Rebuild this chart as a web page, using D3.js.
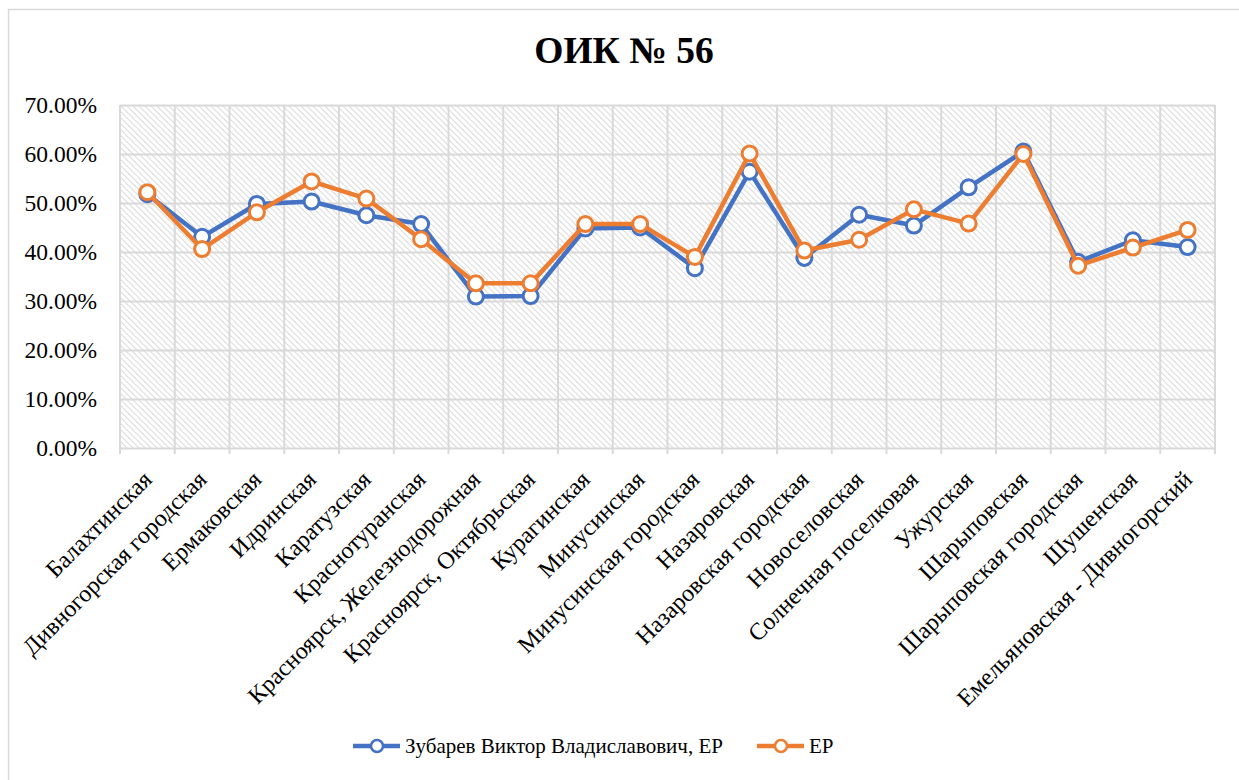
<!DOCTYPE html>
<html>
<head>
<meta charset="utf-8">
<script src="https://cdn.jsdelivr.net/npm/d3@7"></script>
<style>
  body { margin: 0; background: #fff; }
</style>
</head>
<body>
<div id="chart"></div>
<script>
var districts = ["Балахтинская", "Дивногорская городская", "Ермаковская", "Идринская", "Каратузская",
  "Краснотуранская", "Красноярск, Железнодорожная", "Красноярск, Октябрьская", "Курагинская", "Минусинская",
  "Минусинская городская", "Назаровская", "Назаровская городская", "Новоселовская", "Солнечная поселковая",
  "Ужурская", "Шарыповская", "Шарыповская городская", "Шушенская", "Емельяновская - Дивногорский"];

var zubarev = [51.8, 43.1, 49.8, 50.3, 47.5, 45.7, 30.9, 31.0, 44.8, 45.0,
  36.7, 56.4, 38.8, 47.6, 45.4, 53.2, 60.5, 38.0, 42.4, 41.0];
var er = [52.2, 40.6, 48.1, 54.4, 50.9, 42.6, 33.6, 33.6, 45.7, 45.7,
  39.0, 60.1, 40.3, 42.5, 48.7, 45.8, 60.0, 37.2, 40.9, 44.5];

var yTicks = [0, 10, 20, 30, 40, 50, 60, 70];
var seriesNames = ["Зубарев Виктор Владиславович, ЕР", "ЕР"];
var colors = ["#4472C4", "#ED7D31"];

var FONT = '"Liberation Serif", "Times New Roman", serif';

var width = 1239, height = 780;
var margin = {top: 105, right: 24, bottom: 332, left: 120};
var chartWidth = width - margin.left - margin.right;
var chartHeight = height - margin.top - margin.bottom;

var svg = d3.select("#chart").append("svg")
    .attr("width", width)
    .attr("height", height)
    .attr("font-family", FONT);

// outer frame
svg.append("rect")
    .attr("x", 8.5).attr("y", 9.5)
    .attr("width", width).attr("height", height)
    .attr("fill", "none")
    .attr("stroke", "#d9d9d9")
    .attr("stroke-width", 1.5);

var defs = svg.append("defs");
var pat = defs.append("pattern")
    .attr("id", "hatch")
    .attr("patternUnits", "userSpaceOnUse")
    .attr("width", 6).attr("height", 6);
pat.append("path")
    .attr("d", "M-1,-1 L7,7 M-1,5 L1,7 M5,-1 L7,1")
    .attr("stroke", "#dcdcdc")
    .attr("stroke-width", 1.1);

svg.append("text")
    .attr("x", 624).attr("y", 63)
    .attr("text-anchor", "middle")
    .style("font-family", FONT)
    .style("font-size", "37.5px")
    .style("font-weight", "bold")
    .text("ОИК № 56");

var g = svg.append("g")
    .attr("transform", `translate(${margin.left}, ${margin.top})`);

var xScale = d3.scaleBand()
    .domain(districts)
    .range([0, chartWidth]);

var yScale = d3.scaleLinear()
    .domain([0, 70])
    .range([chartHeight, 0]);

g.append("rect")
    .attr("width", chartWidth)
    .attr("height", chartHeight)
    .attr("fill", "url(#hatch)");

// horizontal gridlines
var yAxis = d3.axisLeft(yScale)
    .tickValues(yTicks)
    .tickSize(-chartWidth)
    .tickPadding(23)
    .tickFormat(d => d.toFixed(2) + "%");

g.append("g")
    .attr("class", "y axis")
    .call(yAxis)
    .attr("font-family", FONT)
    .call(a => a.select(".domain").remove())
    .call(a => a.selectAll("line").attr("stroke", "#d9d9d9").attr("stroke-width", 2))
    .call(a => a.selectAll("text")
        .attr("fill", "#000")
        .style("font-family", FONT)
        .style("font-size", "23.5px"));

// vertical gridlines at band edges, with small ticks below
var edges = districts.map(d => xScale(d)).concat([chartWidth]);
g.selectAll(".vgrid")
    .data(edges)
    .enter()
    .append("line")
    .attr("class", "vgrid")
    .attr("x1", d => d).attr("x2", d => d)
    .attr("y1", 0).attr("y2", chartHeight + 6)
    .attr("stroke", "#d9d9d9")
    .attr("stroke-width", 2);

// category labels
g.selectAll(".xlabel")
    .data(districts)
    .enter()
    .append("text")
    .attr("class", "xlabel")
    .attr("text-anchor", "end")
    .attr("transform", d => `translate(${xScale(d) + xScale.bandwidth() / 2}, ${chartHeight + 27}) rotate(-45)`)
    .attr("dy", "0.35em")
    .style("font-family", FONT)
    .style("font-size", "24px")
    .text(d => d);

var line = d3.line()
    .x((d, i) => xScale(districts[i]) + xScale.bandwidth() / 2)
    .y(d => yScale(d));

[zubarev, er].forEach(function(vals, k) {
  g.append("path")
      .datum(vals)
      .attr("fill", "none")
      .attr("stroke", colors[k])
      .attr("stroke-width", 4.5)
      .attr("stroke-linejoin", "round")
      .attr("d", line);

  g.selectAll(".pt" + k)
      .data(vals)
      .enter()
      .append("circle")
      .attr("class", "pt" + k)
      .attr("cx", (d, i) => xScale(districts[i]) + xScale.bandwidth() / 2)
      .attr("cy", d => yScale(d))
      .attr("r", 7.5)
      .attr("fill", "#fff")
      .attr("stroke", colors[k])
      .attr("stroke-width", 3);
});

// legend
var legendX = [353, 757];
var legend = svg.selectAll(".legend")
    .data(seriesNames)
    .enter()
    .append("g")
    .attr("class", "legend")
    .attr("transform", (d, i) => `translate(${legendX[i]}, 746)`);

legend.append("line")
    .attr("x1", 0).attr("x2", 47)
    .attr("stroke", (d, i) => colors[i])
    .attr("stroke-width", 4.5);

legend.append("circle")
    .attr("cx", 24).attr("r", 6)
    .attr("fill", "#fff")
    .attr("stroke", (d, i) => colors[i])
    .attr("stroke-width", 2.5);

legend.append("text")
    .attr("x", 52)
    .attr("dy", "0.35em")
    .style("font-family", FONT)
    .style("font-size", "21px")
    .text(d => d);
</script>
</body>
</html>
